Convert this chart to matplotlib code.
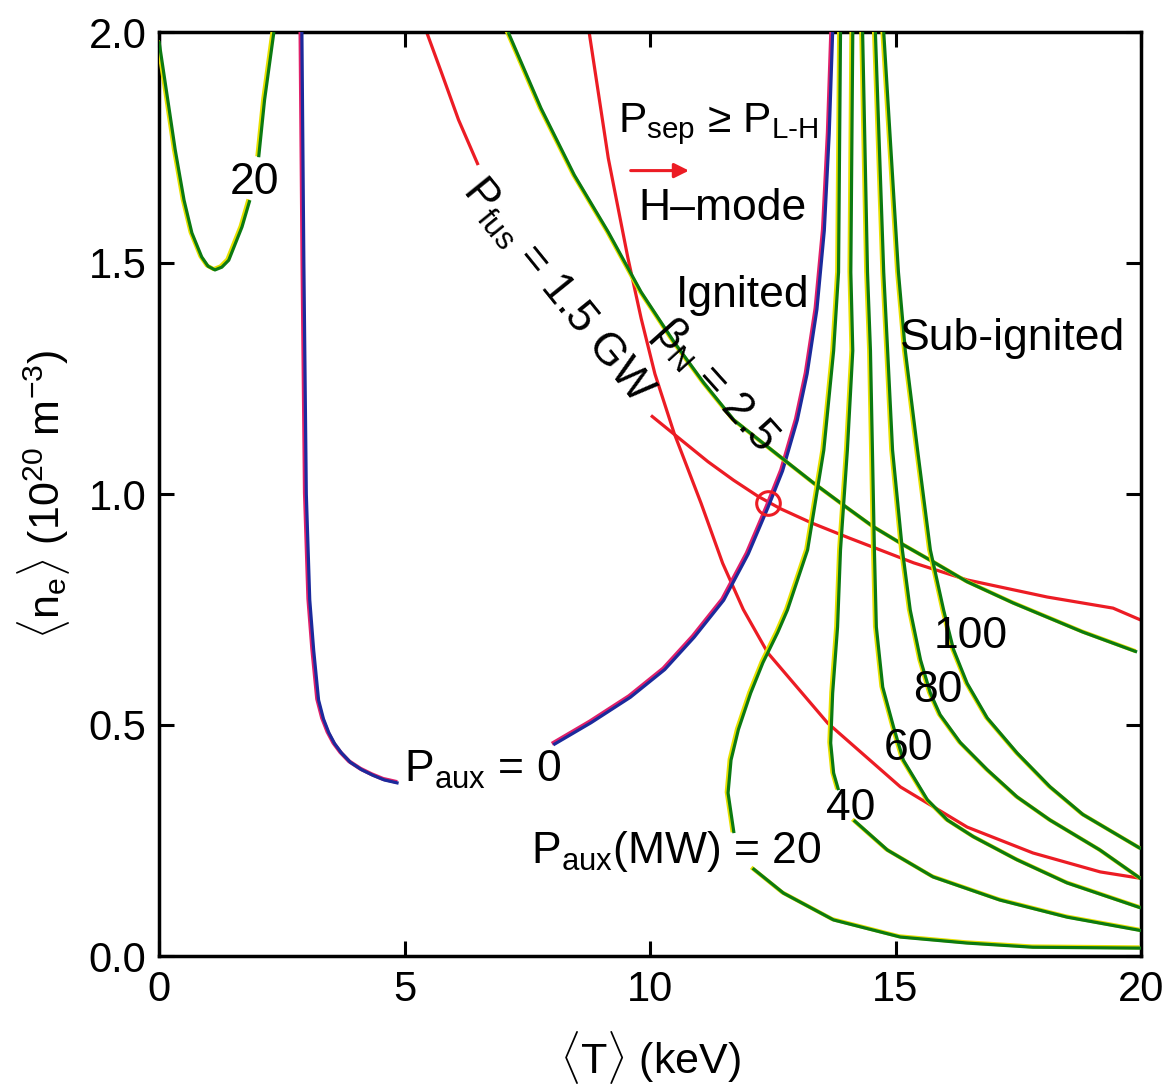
import matplotlib
matplotlib.use("Agg")
import matplotlib.pyplot as plt
import matplotlib.patheffects as pe

plt.rcParams['font.family'] = ['Liberation Sans', 'DejaVu Sans']
plt.rcParams['mathtext.fontset'] = 'custom'
plt.rcParams['mathtext.rm'] = 'Liberation Sans'
plt.rcParams['mathtext.it'] = 'Liberation Sans:italic'
plt.rcParams['mathtext.bf'] = 'Liberation Sans:bold'

# ---------------- data ----------------
# P_aux = 20 MW contour, low-temperature branch (split by its label)
aux20_left_a_x = [0.0, 0.20, 0.33, 0.51, 0.67, 0.87, 1.00, 1.14, 1.28, 1.42, 1.69, 1.85]
aux20_left_a_y = [1.98, 1.838, 1.745, 1.636, 1.565, 1.513, 1.493, 1.485, 1.491, 1.506, 1.578, 1.636]
aux20_left_b_x = [2.03, 2.15, 2.34]
aux20_left_b_y = [1.729, 1.853, 2.0]

# P_aux = 0 (ignition) contour
aux0_left_x = [2.91, 2.95, 3.00, 3.07, 3.15, 3.25, 3.35, 3.46, 3.58, 3.72, 3.90, 4.13, 4.36, 4.59, 4.88]
aux0_left_y = [2.0, 1.5, 1.0, 0.771, 0.662, 0.554, 0.513, 0.483, 0.459, 0.439, 0.419, 0.403, 0.391, 0.381, 0.374]
aux0_right_x = [8.03, 8.8, 9.6, 10.3, 10.9, 11.5, 12.0, 12.4, 12.7, 13.0, 13.2, 13.4, 13.55, 13.65, 13.72]
aux0_right_y = [0.457, 0.505, 0.56, 0.62, 0.69, 0.77, 0.87, 0.97, 1.05, 1.16, 1.26, 1.40, 1.57, 1.78, 2.0]

# P_fus = 1.5 GW
pfus_a_x = [5.45, 5.75, 6.10, 6.50]
pfus_a_y = [2.0, 1.913, 1.81, 1.712]
pfus_b_x = [10.02, 10.6, 11.18, 11.7, 12.2, 12.66, 13.3, 14.05, 15.37, 16.46, 18.09, 19.43, 20.0]
pfus_b_y = [1.17, 1.12, 1.07, 1.03, 0.995, 0.968, 0.937, 0.905, 0.851, 0.814, 0.777, 0.753, 0.727]

# P_sep = P_L-H boundary
psep_x = [8.76, 9.15, 9.55, 9.82, 10.1, 10.49, 11.04, 11.48, 11.9, 12.40, 13.62, 15.10, 16.46, 17.80, 19.17, 20.0]
psep_y = [2.0, 1.727, 1.511, 1.38, 1.26, 1.132, 0.98, 0.85, 0.75, 0.656, 0.504, 0.366, 0.279, 0.223, 0.182, 0.168]

# beta_N = 2.5
beta_x = [7.11, 7.78, 8.46, 9.15, 9.82, 10.49, 11.1, 11.71, 12.66, 13.33, 13.94, 14.55, 15.16, 15.77, 16.46, 17.40, 18.82, 19.92]
beta_y = [2.0, 1.835, 1.69, 1.567, 1.437, 1.329, 1.24, 1.16, 1.08, 1.024, 0.976, 0.929, 0.89, 0.853, 0.81, 0.764, 0.701, 0.658]

# P_aux = 20 MW, high-temperature branch (upper / lower parts)
aux20_up_x = [13.88, 13.84, 13.74, 13.54, 13.21, 12.80, 12.60, 12.30, 12.05, 11.80, 11.65, 11.59, 11.71]
aux20_up_y = [2.0, 1.48, 1.31, 1.095, 0.879, 0.749, 0.700, 0.635, 0.569, 0.490, 0.424, 0.353, 0.266]
aux20_lo_x = [12.09, 12.72, 13.74, 15.10, 16.46, 17.80, 20.0]
aux20_lo_y = [0.19, 0.136, 0.078, 0.041, 0.028, 0.019, 0.017]

# P_aux = 40 MW
aux40_up_x = [14.13, 14.09, 14.13, 14.02, 13.88, 13.82, 13.72, 13.68, 13.74, 13.84]
aux40_up_y = [2.0, 1.48, 1.31, 1.095, 0.879, 0.712, 0.569, 0.461, 0.396, 0.359]
aux40_lo_x = [14.15, 14.84, 15.77, 17.13, 18.50, 20.0]
aux40_lo_y = [0.294, 0.229, 0.171, 0.121, 0.084, 0.055]

# P_aux = 60 MW
aux60_x = [14.33, 14.43, 14.49, 14.53, 14.57, 14.61, 14.74, 14.96, 15.16, 15.65, 16.06, 16.59, 17.48, 18.50, 20.0]
aux60_y = [2.0, 1.48, 1.31, 1.095, 0.879, 0.712, 0.582, 0.496, 0.424, 0.338, 0.294, 0.258, 0.208, 0.158, 0.104]

# P_aux = 80 MW
aux80_x = [14.59, 14.76, 14.84, 14.94, 15.14, 15.30, 15.51, 15.71, 15.91, 16.32, 16.87, 17.48, 18.15, 19.17, 20.0]
aux80_y = [2.0, 1.48, 1.31, 1.095, 0.879, 0.749, 0.641, 0.569, 0.522, 0.462, 0.403, 0.344, 0.294, 0.229, 0.167]

# P_aux = 100 MW
aux100_x = [14.76, 15.06, 15.20, 15.45, 15.71, 15.98, 16.18, 16.46, 16.87, 17.48, 18.15, 18.82, 20.0]
aux100_y = [2.0, 1.48, 1.31, 1.095, 0.879, 0.749, 0.664, 0.590, 0.515, 0.439, 0.366, 0.306, 0.232]

# operating point
op_x = [12.4]
op_y = [0.98]

x_ticks = [0, 5, 10, 15, 20]
y_ticks = [0.0, 0.5, 1.0, 1.5, 2.0]
y_ticklabels = ['0.0', '0.5', '1.0', '1.5', '2.0']

# ---------------- figure ----------------
fig = plt.figure(figsize=(11.67, 10.85), dpi=100)
ax = fig.add_axes([159 / 1167, 1 - 956 / 1085, (1141 - 159) / 1167, (956 - 32) / 1085])

GREEN = '#0b7a12'
RED = '#ec1c24'
BLUE = '#1b2a9c'
LW = 2.3

green_pe = [pe.Stroke(linewidth=LW + 0.6, foreground='#e8e000', offset=(-1.0, 0.6)), pe.Normal()]
blue_pe = [pe.Stroke(linewidth=LW + 0.6, foreground='#e0206a', offset=(-1.0, 0.8)), pe.Normal()]


def green(x, y):
    ax.plot(x, y, color=GREEN, lw=LW, solid_capstyle='butt', solid_joinstyle='round',
            path_effects=green_pe, zorder=3)


def red(x, y):
    ax.plot(x, y, color=RED, lw=LW, solid_capstyle='butt', solid_joinstyle='round', zorder=2)


def blue(x, y):
    ax.plot(x, y, color=BLUE, lw=LW, solid_capstyle='butt', solid_joinstyle='round',
            path_effects=blue_pe, zorder=3)


green(aux20_left_a_x, aux20_left_a_y)
green(aux20_left_b_x, aux20_left_b_y)
blue(aux0_left_x, aux0_left_y)
blue(aux0_right_x, aux0_right_y)
red(pfus_a_x, pfus_a_y)
red(pfus_b_x, pfus_b_y)
red(psep_x, psep_y)
green(beta_x, beta_y)
green(aux20_up_x, aux20_up_y)
green(aux20_lo_x, aux20_lo_y)
green(aux40_up_x, aux40_up_y)
green(aux40_lo_x, aux40_lo_y)
green(aux60_x, aux60_y)
green(aux80_x, aux80_y)
green(aux100_x, aux100_y)

ax.plot(op_x, op_y, 'o', ms=17, mfc='none', mec=RED, mew=2.2, zorder=5)

# ---------------- labels ----------------
FS = 32
ax.text(1.95, 1.675, '20', fontsize=FS, ha='center', va='center')
ax.text(4.98, 0.377, r'P$_{\mathrm{aux}}$ = 0', fontsize=FS, ha='left', va='baseline')
ax.text(7.58, 0.201, r'P$_{\mathrm{aux}}$(MW) = 20', fontsize=FS, ha='left', va='baseline')
ax.text(13.58, 0.294, '40', fontsize=FS, ha='left', va='baseline')
ax.text(14.76, 0.424, '60', fontsize=FS, ha='left', va='baseline')
ax.text(15.35, 0.55, '80', fontsize=FS, ha='left', va='baseline')
ax.text(15.77, 0.667, '100', fontsize=FS, ha='left', va='baseline')
ax.text(10.53, 1.405, 'Ignited', fontsize=FS, ha='left', va='baseline')
ax.text(15.10, 1.312, 'Sub-ignited', fontsize=FS, ha='left', va='baseline')
ax.text(9.35, 1.784, r'P$_{\mathrm{sep}}$ ≥ P$_{\mathrm{L\text{-}H}}$', fontsize=30.5, ha='left', va='baseline')
ax.text(9.76, 1.593, 'H–mode', fontsize=FS, ha='left', va='baseline')
ax.annotate('', xy=(10.85, 1.70), xytext=(9.55, 1.70),
            arrowprops=dict(arrowstyle='-|>', color=RED, lw=2.2, mutation_scale=22))
ax.text(8.12, 1.44, r'P$_{\mathrm{fus}}$ = 1.5 GW', fontsize=FS, ha='center', va='center',
        rotation=-51, rotation_mode='anchor')
ax.text(11.33, 1.235, r'β$_{\mathrm{N}}$ = 2.5', fontsize=FS, ha='center', va='center',
        rotation=-48, rotation_mode='anchor')

# ---------------- axes ----------------
ax.set_xlim(0, 20)
ax.set_ylim(0, 2)
ax.set_xticks(x_ticks)
ax.set_yticks(y_ticks)
ax.set_yticklabels(y_ticklabels)
ax.tick_params(direction='in', length=11, width=2.2, labelsize=30, top=True, right=True)
ax.tick_params(axis='x', pad=10)
ax.tick_params(axis='y', pad=9)
for s in ax.spines.values():
    s.set_linewidth(2.5)

ax.set_xlabel(r'$\langle$T$\rangle$ (keV)', fontsize=31, labelpad=14)
ax.set_ylabel(r'$\langle$n$_{\mathrm{e}}$$\rangle$ (10$^{20}$ m$^{-3}$)', fontsize=31, labelpad=12)

fig.savefig('out.png', dpi=100)
